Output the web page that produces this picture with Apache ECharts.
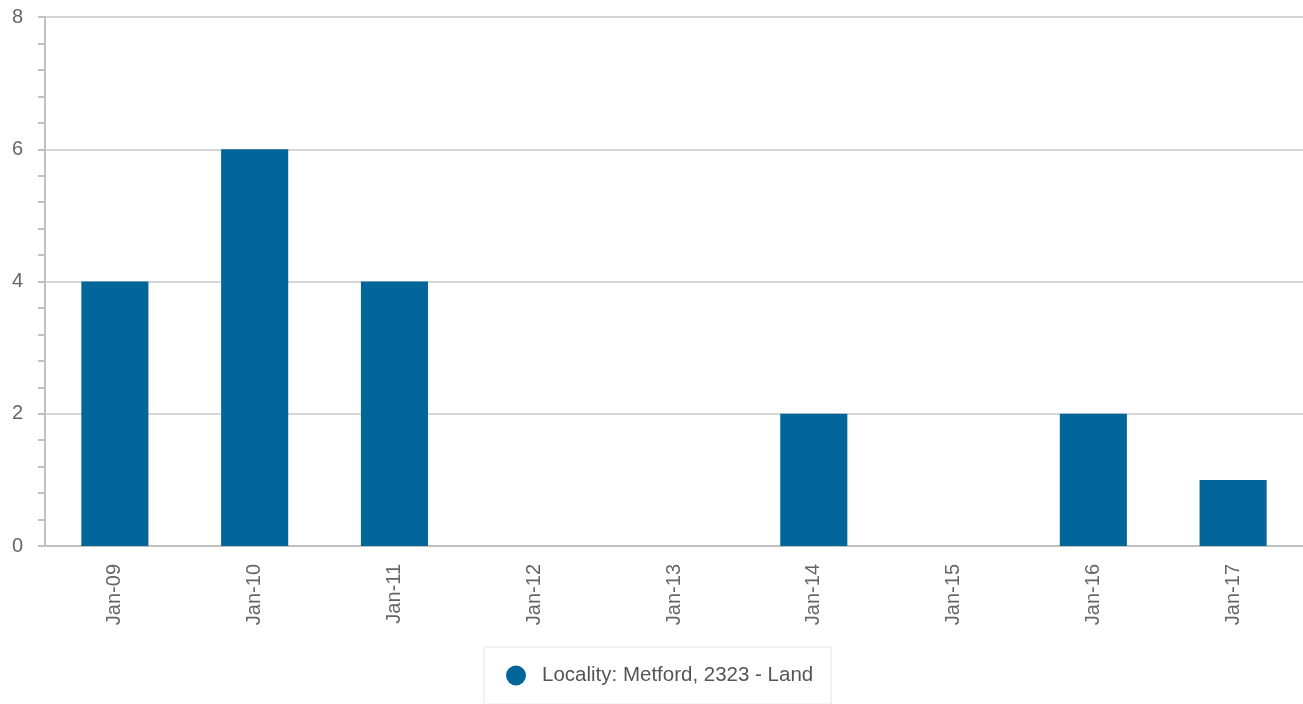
<!DOCTYPE html>
<html>
<head>
<meta charset="utf-8">
<style>
  html, body { margin: 0; padding: 0; background: #fff; }
  #chart { width: 1303px; height: 704px; }
</style>
<script src="https://cdn.jsdelivr.net/npm/echarts@6/dist/echarts.min.js"></script>
</head>
<body>
<div id="chart"></div>
<script>
// data
var categories = ['Jan-09', 'Jan-10', 'Jan-11', 'Jan-12', 'Jan-13', 'Jan-14', 'Jan-15', 'Jan-16', 'Jan-17'];
var landSales = [4, 6, 4, 0, 0, 2, 0, 2, 1];
var seriesName = 'Locality: Metford, 2323 - Land';

var chart = echarts.init(document.getElementById('chart'));
chart.setOption({
  animation: false,
  textStyle: { fontFamily: 'Liberation Sans, Arial, sans-serif' },
  grid: { left: 45, right: 0, top: 17, bottom: 158 },
  legend: {
    data: [seriesName],
    bottom: 0,
    left: 484,
    icon: 'circle',
    itemWidth: 20,
    itemHeight: 20,
    padding: [18, 18, 18, 22],
    borderColor: '#e6e6e6',
    borderWidth: 1,
    textStyle: { fontSize: 20.5, color: '#555', padding: [0, 0, 0, 11] }
  },
  xAxis: {
    type: 'category',
    data: categories,
    axisLine: { lineStyle: { color: '#c0c0c0', width: 2 } },
    axisTick: { alignWithLabel: true, length: 10, lineStyle: { color: '#ccd6eb', width: 2 } },
    axisLabel: { rotate: 90, fontSize: 20, color: '#666', margin: 18 }
  },
  yAxis: {
    type: 'value',
    min: 0,
    max: 8,
    interval: 2,
    axisLine: { show: true, lineStyle: { color: '#c0c0c0', width: 2 } },
    axisTick: { show: true, length: 7, lineStyle: { color: '#c0c0c0', width: 2 } },
    minorTick: { show: true, splitNumber: 5, length: 7, lineStyle: { color: '#c0c0c0', width: 2 } },
    splitLine: { lineStyle: { color: '#c8c8c8', width: 1.5 } },
    axisLabel: { fontSize: 20, color: '#666', margin: 22 }
  },
  series: [{
    name: seriesName,
    type: 'bar',
    data: landSales,
    barWidth: '48%',
    itemStyle: { color: '#03669b' }
  }]
});
</script>
</body>
</html>
